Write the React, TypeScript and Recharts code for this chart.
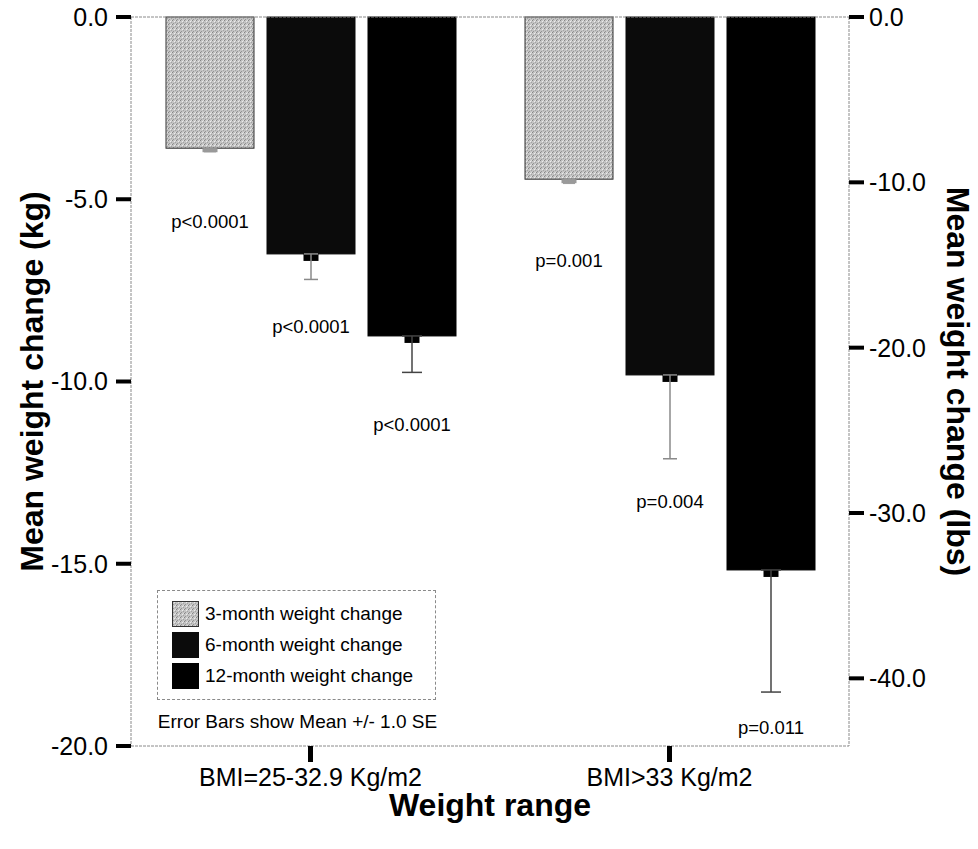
import React from 'react'
import {
  ComposedChart,
  Bar,
  XAxis,
  YAxis,
  ErrorBar,
  ReferenceLine,
  Legend,
  Label,
} from 'recharts'

const FONT = '"Liberation Sans", Arial, sans-serif'
const KG_TO_LBS = 2.20462

// categories on the x axis
const categories = ['BMI=25-32.9 Kg/m2', 'BMI>33 Kg/m2']

// mean weight change (kg)
const change3 = [-3.6, -4.45]
const change6 = [-6.5, -9.82]
const change12 = [-8.75, -15.17]

// standard errors (kg), only the lower half shows in the figure
const se3 = [0.1, 0.12]
const se6 = [0.7, 2.3]
const se12 = [1.0, 3.35]

// p-value annotations and where they sit (kg)
const pText3 = ['p<0.0001', 'p=0.001']
const pText6 = ['p<0.0001', 'p=0.004']
const pText12 = ['p<0.0001', 'p=0.011']
const pAt3 = [-5.62, -6.69]
const pAt6 = [-8.5, -13.3]
const pAt12 = [-11.17, -19.5]

const kgTicks = [0, -5, -10, -15, -20]
const lbsTicks = [0, -10, -20, -30, -40]

const data = categories.map((name, i) => ({
  name,
  m3: change3[i],
  m6: change6[i],
  m12: change12[i],
  se3: [se3[i], 0],
  se6: [se6[i], 0],
  se12: [se12[i], 0],
}))

const legendItems = [
  { label: '3-month weight change', fill: 'url(#grain)', stroke: '#333' },
  { label: '6-month weight change', fill: '#0b0b0b', stroke: '#0b0b0b' },
  { label: '12-month weight change', fill: '#000', stroke: '#000' },
]

// bar with the little nub under it and its p-value text
function makeShape(
  fill: string,
  stroke: string,
  nub: string,
  values: number[],
  texts: string[],
  at: number[],
) {
  return (props: any) => {
    const { x, y, width, height, index } = props
    const top = Math.min(y, y + height)
    const h = Math.abs(height)
    const perKg = h / Math.abs(values[index])
    const ly = top + Math.abs(at[index]) * perKg
    const cx = x + width / 2
    return (
      <g>
        <rect x={x} y={top} width={width} height={h} fill={fill} stroke={stroke} strokeWidth={1} />
        <rect x={cx - 7.5} y={top + h} width={15} height={nub === '#000' ? 7 : 4} fill={nub} />
        <text
          x={cx}
          y={ly}
          textAnchor="middle"
          dominantBaseline="central"
          fontFamily={FONT}
          fontSize={18.5}
          fill="#000"
        >
          {texts[index]}
        </text>
      </g>
    )
  }
}

function LegendBox() {
  return (
    <div style={{ fontFamily: FONT, color: '#000' }}>
      <div
        style={{
          width: 277,
          height: 101,
          border: '1px dashed #8a8a8a',
          boxSizing: 'content-box',
          paddingTop: 7,
        }}
      >
        {legendItems.map((it) => (
          <div key={it.label} style={{ display: 'flex', alignItems: 'center', height: 31, paddingLeft: 14 }}>
            <svg width={27} height={26} style={{ marginRight: 6 }}>
              <rect x={0.5} y={0.5} width={26} height={25} fill={it.fill} stroke={it.stroke} />
            </svg>
            <span style={{ fontSize: 19 }}>{it.label}</span>
          </div>
        ))}
      </div>
      <div style={{ fontSize: 19, marginTop: 11, width: 281, textAlign: 'center', whiteSpace: 'nowrap' }}>
        Error Bars show Mean +/- 1.0 SE
      </div>
    </div>
  )
}

export default function App() {
  const frame = { stroke: '#8a8a8a', strokeDasharray: '3 1' }
  const bold = { fill: '#000', fontSize: 32, fontWeight: 700, fontFamily: FONT }
  return (
    <div style={{ position: 'absolute', left: 0, top: 0, background: '#fff' }}>
      <ComposedChart
        width={978}
        height={849}
        data={data}
        margin={{ top: 17, right: 0, bottom: 0, left: 0 }}
        barCategoryGap={35}
        barGap={13}
      >
        <defs>
          <pattern id="grain" width={4} height={4} patternUnits="userSpaceOnUse">
            <rect width={4} height={4} fill="#c4c4c4" />
            <rect x={0} y={0} width={1} height={1} fill="#858585" />
            <rect x={2} y={1} width={1} height={1} fill="#ececec" />
            <rect x={1} y={3} width={1} height={1} fill="#959595" />
            <rect x={3} y={2} width={1} height={1} fill="#a2a2a2" />
            <rect x={3} y={0} width={1} height={1} fill="#dedede" />
          </pattern>
        </defs>
        <XAxis
          dataKey="name"
          height={103}
          axisLine={frame}
          tickLine={{ stroke: '#000', strokeWidth: 5 }}
          tickSize={16}
          tickMargin={6}
          tick={{ fill: '#000', fontSize: 25, fontFamily: FONT }}
        >
          <Label value="Weight range" position="center" dy={7} style={bold} />
        </XAxis>
        <YAxis
          yAxisId="kg"
          type="number"
          domain={[-20, 0]}
          ticks={kgTicks}
          width={131}
          axisLine={frame}
          tickLine={{ stroke: '#000', strokeWidth: 4 }}
          tickSize={15}
          tickMargin={8}
          tickFormatter={(v: number) => v.toFixed(1)}
          tick={{ fill: '#000', fontSize: 25, fontFamily: FONT }}
        >
          <Label value="Mean weight change (kg)" position="center" angle={-90} dx={-34} style={bold} />
        </YAxis>
        <YAxis
          yAxisId="lbs"
          orientation="right"
          type="number"
          domain={[-20 * KG_TO_LBS, 0]}
          allowDataOverflow
          ticks={lbsTicks}
          width={129}
          axisLine={frame}
          tickLine={{ stroke: '#000', strokeWidth: 4 }}
          tickSize={15}
          tickMargin={5}
          tickFormatter={(v: number) => v.toFixed(1)}
          tick={{ fill: '#000', fontSize: 25, fontFamily: FONT }}
        >
          <Label value="Mean weight change (lbs)" position="center" angle={90} dx={45} style={bold} />
        </YAxis>
        <ReferenceLine yAxisId="kg" y={0} stroke="#8a8a8a" strokeDasharray="3 1" />
        <Legend
          layout="vertical"
          align="center"
          verticalAlign="middle"
          wrapperStyle={{ left: 157, top: 590, width: 300, height: 150 }}
          content={() => <LegendBox />}
        />
        <Bar
          yAxisId="kg"
          dataKey="m3"
          isAnimationActive={false}
          shape={makeShape('url(#grain)', '#333', '#9a9a9a', change3, pText3, pAt3)}
        >
          <ErrorBar dataKey="se3" width={6} stroke="#999" strokeWidth={1} direction="y" />
        </Bar>
        <Bar
          yAxisId="kg"
          dataKey="m6"
          isAnimationActive={false}
          shape={makeShape('#0b0b0b', '#0b0b0b', '#000', change6, pText6, pAt6)}
        >
          <ErrorBar dataKey="se6" width={7} stroke="#8a8a8a" strokeWidth={1.5} direction="y" />
        </Bar>
        <Bar
          yAxisId="kg"
          dataKey="m12"
          isAnimationActive={false}
          shape={makeShape('#000', '#000', '#000', change12, pText12, pAt12)}
        >
          <ErrorBar dataKey="se12" width={10} stroke="#444" strokeWidth={1.5} direction="y" />
        </Bar>
      </ComposedChart>
    </div>
  )
}
